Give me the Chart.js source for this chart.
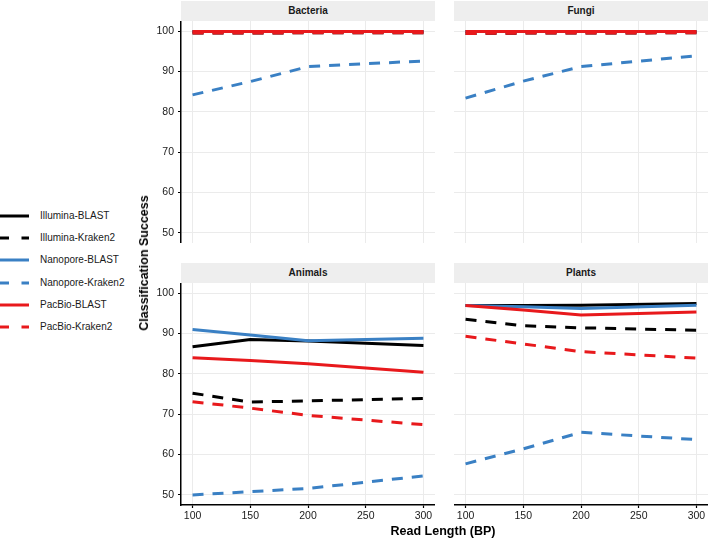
<!DOCTYPE html>
<html>
<head>
<meta charset="utf-8">
<script src="https://cdn.jsdelivr.net/npm/chart.js@4.4.1/dist/chart.umd.min.js"></script>
<style>
  body { margin: 0; background: #fff; width: 709px; height: 539px; overflow: hidden; position: relative;
         font-family: 'Liberation Sans', Arial, sans-serif; color: #1a1a1a; }
  canvas { position: absolute; }
  .strip { position: absolute; background: #eeeeee; font-weight: bold; font-size: 10px; text-align: center; }
  .title { position: absolute; font-weight: bold; font-size: 12.5px; white-space: nowrap; color: #000; }
  .legend { position: absolute; left: 0; font-size: 10px; white-space: nowrap; }
  .legend svg { position: absolute; left: 0; top: 0; }
  .legend span { position: absolute; left: 40px; top: -6px; }
</style>
</head>
<body>

<div class="strip" style="left:181px; top:1px; width:254px; height:20px; line-height:20px;">Bacteria</div>
<div class="strip" style="left:454px; top:1px; width:254px; height:20px; line-height:20px;">Fungi</div>
<div class="strip" style="left:181px; top:263px; width:254px; height:20px; line-height:20px;">Animals</div>
<div class="strip" style="left:454px; top:263px; width:254px; height:20px; line-height:20px;">Plants</div>

<canvas id="bacteria" width="296" height="222" style="left:139px; top:21px;"></canvas>
<canvas id="fungi" width="254" height="222" style="left:454px; top:21px;"></canvas>
<canvas id="animals" width="296" height="244" style="left:139px; top:283px;"></canvas>
<canvas id="plants" width="254" height="244" style="left:454px; top:283px;"></canvas>

<div class="title" style="left:443px; top:531px; transform: translate(-50%, -50%);">Read Length (BP)</div>
<div class="title" style="left:144px; top:263px; transform: translate(-50%, -50%) rotate(-90deg);">Classification Success</div>

<div id="legend"></div>

<script>
// Datos
var readLength = [100, 150, 200, 300];
var xTicks = [100, 150, 200, 250, 300];
var yTicks = [50, 60, 70, 80, 90, 100];

var seriesNames = ["Illumina-BLAST", "Illumina-Kraken2", "Nanopore-BLAST", "Nanopore-Kraken2", "PacBio-BLAST", "PacBio-Kraken2"];

// Bacteria
var bacteriaIlluminaBlast   = [99.9, 99.9, 99.9, 99.9];
var bacteriaIlluminaKraken  = [99.5, 99.5, 99.6, 99.6];
var bacteriaNanoporeBlast   = [99.9, 99.9, 99.9, 99.9];
var bacteriaNanoporeKraken  = [84.2, 87.5, 91.2, 92.6];
var bacteriaPacbioBlast     = [99.9, 99.9, 99.9, 99.9];
var bacteriaPacbioKraken    = [99.5, 99.5, 99.6, 99.6];

// Fungi
var fungiIlluminaBlast   = [99.9, 99.9, 99.9, 99.9];
var fungiIlluminaKraken  = [99.4, 99.5, 99.5, 99.6];
var fungiNanoporeBlast   = [99.9, 99.9, 99.9, 99.9];
var fungiNanoporeKraken  = [83.4, 87.6, 91.2, 93.9];
var fungiPacbioBlast     = [99.9, 99.9, 99.9, 99.9];
var fungiPacbioKraken    = [99.4, 99.5, 99.5, 99.6];

// Animals
var animalsIlluminaBlast   = [86.7, 88.5, 88.1, 87.0];
var animalsIlluminaKraken  = [75.2, 73.0, 73.3, 73.9];
var animalsNanoporeBlast   = [91.0, 89.6, 88.2, 88.8];
var animalsNanoporeKraken  = [50.0, 50.8, 51.6, 54.7];
var animalsPacbioBlast     = [84.0, 83.3, 82.5, 80.4];
var animalsPacbioKraken    = [73.1, 71.5, 69.7, 67.4];

// Plants
var plantsIlluminaBlast   = [96.9, 96.9, 97.0, 97.4];
var plantsIlluminaKraken  = [93.5, 91.9, 91.4, 90.8];
var plantsNanoporeBlast   = [96.9, 96.6, 96.2, 97.0];
var plantsNanoporeKraken  = [57.7, 61.4, 65.5, 63.7];
var plantsPacbioBlast     = [96.9, 95.8, 94.6, 95.3];
var plantsPacbioKraken    = [89.3, 87.4, 85.5, 83.9];

// Estilos de cada serie
var colors = ["#000000", "#000000", "#3a80c4", "#3a80c4", "#e8191c", "#e8191c"];
var dashes = [[], [11, 9], [], [11, 9], [], [11, 9]];

Chart.defaults.font.family = "'Liberation Sans', Arial, sans-serif";
Chart.defaults.font.size = 10;
Chart.defaults.color = "#1a1a1a";

// quita el padding que Chart.js reserva para las etiquetas de los extremos
function noPadding(s) {
    s.paddingTop = 0;
    s.paddingBottom = 0;
    s.paddingLeft = 0;
    s.paddingRight = 0;
}

function makePanel(id, series, showX, showY) {
    var datasets = series.map(function (vals, i) {
        return {
            label: seriesNames[i],
            data: readLength.map(function (x, j) { return { x: x, y: vals[j] }; }),
            borderColor: colors[i],
            borderDash: dashes[i],
            borderWidth: 3,
            borderCapStyle: 'butt',
            pointRadius: 0,
            tension: 0,
            fill: false,
            order: series.length - i // later series on top, like ggplot
        };
    });

    return new Chart(document.getElementById(id), {
        type: 'line',
        data: { datasets: datasets },
        options: {
            responsive: false,
            animation: false,
            layout: { padding: 0 },
            plugins: { legend: { display: false }, tooltip: { enabled: false } },
            scales: {
                x: {
                    type: 'linear',
                    min: 90,
                    max: 310,
                    afterBuildTicks: function (s) { s.ticks = xTicks.map(function (v) { return { value: v }; }); },
                    afterFit: function (s) { s.height = showX ? 22 : 0; noPadding(s); },
                    grid: { color: '#ebebeb', lineWidth: 1, drawTicks: showX, tickLength: 3, tickColor: '#000', tickWidth: 1.2 },
                    border: { display: showX, color: '#000', width: 1.5 },
                    ticks: { display: showX, padding: 2, color: '#1a1a1a', maxRotation: 0, font: { size: 10.5 } }
                },
                y: {
                    type: 'linear',
                    min: 47.5,
                    max: 102.5,
                    afterBuildTicks: function (s) { s.ticks = yTicks.map(function (v) { return { value: v }; }); },
                    afterFit: function (s) { s.width = showY ? 42 : 0; noPadding(s); },
                    grid: { color: '#ebebeb', lineWidth: 1, drawTicks: showY, tickLength: 3, tickColor: '#000', tickWidth: 1.2 },
                    border: { display: showY, color: '#000', width: 1.5 },
                    ticks: { display: showY, padding: 4, color: '#1a1a1a', font: { size: 10.5 } }
                }
            }
        }
    });
}

makePanel('bacteria', [bacteriaIlluminaBlast, bacteriaIlluminaKraken, bacteriaNanoporeBlast, bacteriaNanoporeKraken, bacteriaPacbioBlast, bacteriaPacbioKraken], false, true);
makePanel('fungi', [fungiIlluminaBlast, fungiIlluminaKraken, fungiNanoporeBlast, fungiNanoporeKraken, fungiPacbioBlast, fungiPacbioKraken], false, false);
makePanel('animals', [animalsIlluminaBlast, animalsIlluminaKraken, animalsNanoporeBlast, animalsNanoporeKraken, animalsPacbioBlast, animalsPacbioKraken], true, true);
makePanel('plants', [plantsIlluminaBlast, plantsIlluminaKraken, plantsNanoporeBlast, plantsNanoporeKraken, plantsPacbioBlast, plantsPacbioKraken], true, false);

// Leyenda
var legendBox = document.getElementById('legend');
seriesNames.forEach(function (name, i) {
    var row = document.createElement('div');
    row.className = 'legend';
    row.style.top = (216 + i * 22.2) + 'px';
    var dash = dashes[i].length ? ' stroke-dasharray="9 12.5"' : '';
    row.innerHTML = '<svg width="32" height="4" style="top:-2px"><line x1="0" y1="2" x2="29" y2="2" stroke="' + colors[i] + '" stroke-width="3"' + dash + '/></svg>' +
        '<span>' + name + '</span>';
    legendBox.appendChild(row);
});
</script>
</body>
</html>
